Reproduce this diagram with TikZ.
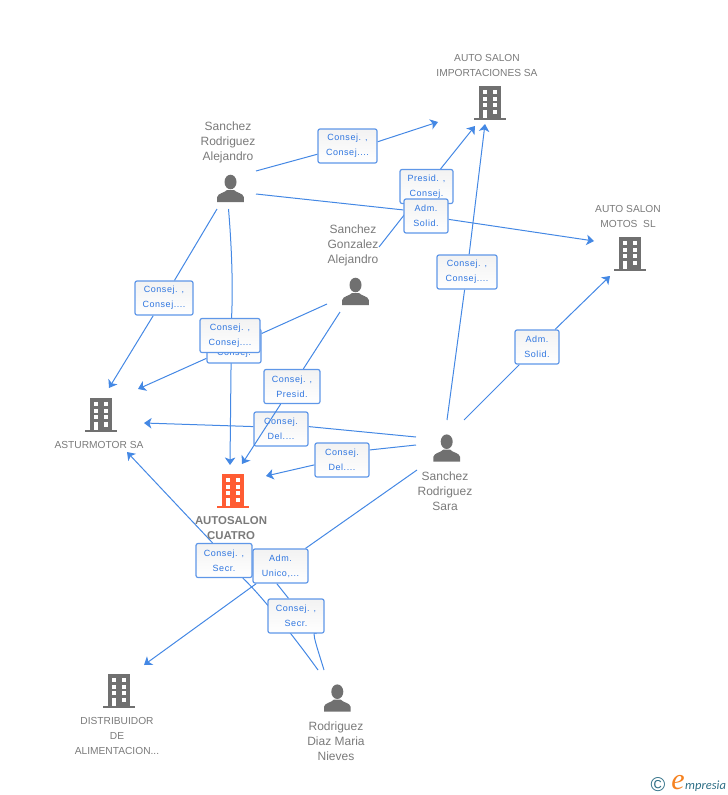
\documentclass[tikz,border=0pt]{standalone}
\usepackage{fontspec}
\setmainfont{Liberation Sans}
\newfontfamily\boxfont[LetterSpace=6]{Liberation Sans}
\newfontfamily\logofont{Liberation Serif}
\newfontfamily\logoname{Carlito}
\usetikzlibrary{arrows.meta,backgrounds}
\definecolor{linkblue}{HTML}{4488E4}
\definecolor{boxedge}{HTML}{5F97E8}
\definecolor{boxtext}{HTML}{2F76E0}
\definecolor{nametext}{HTML}{7A7A7A}
\definecolor{icongray}{HTML}{707070}
\definecolor{iconorange}{HTML}{FF5C33}
\definecolor{logoteal}{HTML}{2F6F86}
\definecolor{logoorange}{HTML}{F58220}
\tikzset{
    link/.style={draw=linkblue, line width=1pt},
    arrowlink/.style={link, -{Stealth[length=7.5pt,width=10.5pt,inset=2pt]}},
    boxlabel/.style={draw=boxedge, line width=1.2pt, rounded corners=2pt, top color=black!5, bottom color=white, text=boxtext,
        font=\boxfont\fontsize{9}{15}\selectfont, align=center, inner sep=0pt, minimum height=34pt, minimum width=#1,
        execute at begin node={\rule{0pt}{10pt}}},
    entity/.style={text=nametext, align=center, inner sep=0pt, font=\fontsize{10.2}{15}\selectfont},
    person/.style={text=nametext, align=center, inner sep=0pt, font=\fontsize{12}{15}\selectfont},
    personicon/.pic={
        \fill[icongray] (0,-20) ellipse [x radius=6, y radius=7.3];
        \fill[icongray] (-13.3,0) -- (-13.3,-5) .. controls (-12.5,-9) and (-6,-9) .. (-3.5,-12) -- (3.5,-12) .. controls (6,-9) and (12.5,-9) .. (13.3,-5) -- (13.3,0) -- cycle;
    },
    buildingicon/.pic={
        \fill[#1] (-16,0) rectangle (16,-2);
        \fill[#1] (-11.3,0) rectangle (11.3,-34);
        \foreach \wy in {-30,-23,-16.7} {
            \fill[white] (-7.3,\wy) rectangle (-3,\wy+4);
            \fill[white] (2.6,\wy) rectangle (7,\wy+4);
        }
        \fill[white] (2.6,-10) rectangle (7,-5.5);
        \fill[white] (-7.3,-10) rectangle (-3,-2);
    },
}
\begin{document}
\begin{tikzpicture}[x=1pt, y=-1pt]
    \useasboundingbox (0,0) rectangle (728,795);

    \node[entity] (importaciones) at (487,65) {AUTO SALON\\IMPORTACIONES SA};
    \node[entity] (motos) at (628,216) {AUTO SALON\\MOTOS\ \ SL};
    \node[entity] (asturmotor) at (99,444.5) {ASTURMOTOR SA};
    \node[entity, font=\bfseries\fontsize{11.4}{15}\selectfont] (autosalon) at (231,528) {AUTOSALON\\CUATRO};
    \node[entity] (distribuidor) at (117,735.5) {DISTRIBUIDOR\\DE\\ALIMENTACION...};
    \node[person] (alejandro) at (228,142) {Sanchez\\Rodriguez\\Alejandro};
    \node[person] (gonzalez) at (353,245) {Sanchez\\Gonzalez\\Alejandro};
    \node[person] (sara) at (445,491.5) {Sanchez\\Rodriguez\\Sara};
    \node[person] (nieves) at (336,741.5) {Rodriguez\\Diaz Maria\\Nieves};

    \pic at (490,119.5) {buildingicon=icongray};
    \pic at (630,270.7) {buildingicon=icongray};
    \pic at (101,432) {buildingicon=icongray};
    \pic at (233,507.7) {buildingicon=iconorange};
    \pic at (119,707.7) {buildingicon=icongray};
    \pic at (230.5,202) {personicon};
    \pic at (355.5,305) {personicon};
    \pic at (446.7,461.7) {personicon};
    \pic at (337.3,711.7) {personicon};

    \node[boxlabel=59pt] (conseja) at (347.5,146) {Consej. ,\\Consej....};
    \node[boxlabel=53pt] (presid) at (426.5,186.5) {Presid. ,\\Consej.};
    \node[boxlabel=44pt] (solida) at (426,216) {Adm.\\Solid.};
    \node[boxlabel=60pt] (consejb) at (467,272) {Consej. ,\\Consej....};
    \node[boxlabel=44pt] (solidb) at (537,347) {Adm.\\Solid.};
    \node[boxlabel=58pt] (consejc) at (164,298) {Consej. ,\\Consej....};
    \node[boxlabel=54pt] (consejd) at (234,346) {Consej. ,\\Consej.};
    \node[boxlabel=60pt] (conseje) at (230,335.5) {Consej. ,\\Consej....};
    \node[boxlabel=56pt] (consejp) at (292,386.5) {Consej. ,\\Presid.};
    \node[boxlabel=54pt] (dela) at (281,429) {Consej.\\Del....};
    \node[boxlabel=54pt] (delb) at (342,460) {Consej.\\Del....};
    \node[boxlabel=56pt] (secra) at (224,560.5) {Consej. ,\\Secr.};
    \node[boxlabel=55pt] (unico) at (280.5,566) {Adm.\\Unico,...};
    \node[boxlabel=56pt] (secrb) at (296,616) {Consej. ,\\Secr.};

    \coordinate (fromalejandroa) at (256,171);
    \coordinate (fromalejandrob) at (256,194);
    \coordinate (fromalejandroc) at (217,209);
    \coordinate (fromalejandrod) at (228.5,209);
    \coordinate (fromgonzaleza) at (379,247);
    \coordinate (fromgonzalezb) at (327,304);
    \coordinate (fromgonzalezc) at (340,312);
    \coordinate (fromsaraa) at (447,420);
    \coordinate (fromsarab) at (464,420);
    \coordinate (fromsarac) at (416,437);
    \coordinate (fromsarad) at (416,445);
    \coordinate (fromsarae) at (417,470);
    \coordinate (fromnievesa) at (318,670);
    \coordinate (fromnievesb) at (324,670);
    \coordinate (toimporta) at (438,122);
    \coordinate (toimportb) at (475,126);
    \coordinate (toimportc) at (485,124);
    \coordinate (tomotosa) at (594,241);
    \coordinate (tomotosb) at (610,276);
    \coordinate (toasturmotora) at (109,388);
    \coordinate (toasturmotorb) at (138,389);
    \coordinate (toasturmotorc) at (144,423);
    \coordinate (toasturmotord) at (127,452);
    \coordinate (toautosalona) at (230,465);
    \coordinate (toautosalonb) at (242,464);
    \coordinate (toautosalonc) at (266,476);
    \coordinate (todistribuidor) at (144,665);

    \begin{scope}[on background layer]
        \draw[link] (fromalejandroa) -- (conseja);
        \draw[arrowlink] (conseja.8) -- (toimporta);
        \draw[link] (fromalejandrob) -- (solida.165);
        \draw[arrowlink] (solida) -- (tomotosa);
        \draw[link] (fromgonzaleza) -- (presid);
        \draw[arrowlink] (presid) -- (toimportb);
        \draw[link] (fromsaraa) -- (consejb);
        \draw[arrowlink] (consejb) -- (toimportc);
        \draw[link] (fromsarab) -- (solidb);
        \draw[arrowlink] (solidb) -- (tomotosb);
        \draw[link] (fromalejandroc) -- (consejc);
        \draw[arrowlink] (consejc) -- (toasturmotora);
        \draw[link] (fromalejandrod) .. controls (232,250) and (233,290) .. (conseje.85);
        \draw[arrowlink] (conseje.85) -- (toautosalona);
        \draw[link] (fromgonzalezb) -- (consejd);
        \draw[arrowlink] (consejd) -- (toasturmotorb);
        \draw[link] (fromgonzalezc) -- (consejp);
        \draw[link] (fromsarac) -- (dela.5);
        \draw[arrowlink] (dela.175) -- (toasturmotorc);
        \draw[link] (fromsarad) -- (delb.20);
        \draw[arrowlink] (delb.190) -- (toautosalonc);
        \draw[link] (fromsarae) -- (unico);
        \draw[arrowlink] (unico) -- (todistribuidor);
        \draw[link] (fromnievesa) .. controls (298,642) and (262,596) .. (secra);
        \draw[arrowlink] (secra.123) -- (toasturmotord);
        \draw[link] (fromnievesb) .. controls (318,650) and (310,628) .. (secrb);
        \draw[link] (secrb.113) -- (unico.258);
    \end{scope}
    \draw[arrowlink] (consejp) -- (toautosalonb);

    \node[text=logoteal, inner sep=0pt, font=\fontsize{20}{20}\selectfont] (logocopy) at (658,785) {©};
    \node[text=logoorange, inner sep=0pt, font=\logofont\itshape\fontsize{30}{30}\selectfont] (logoe) at (678,783) {e};
    \node[text=logoteal, inner sep=0pt, anchor=base west, font=\logoname\itshape\fontsize{12.5}{12.5}\selectfont] (logotext) at (685,789.5) {mpresia};
\end{tikzpicture}
\end{document}
